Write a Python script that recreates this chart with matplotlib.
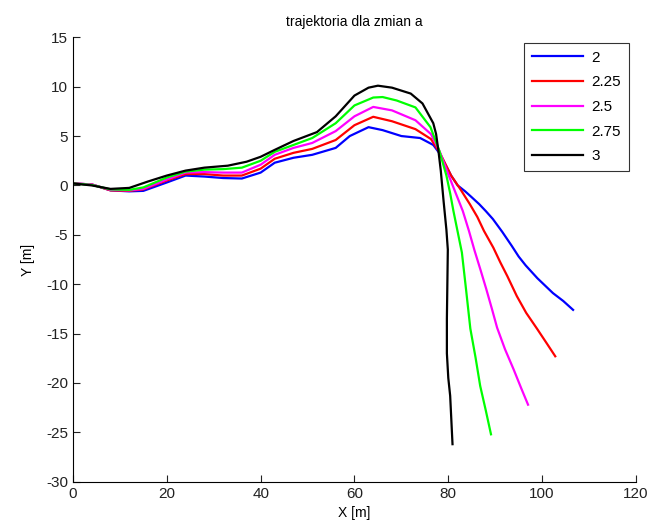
import numpy as np
import matplotlib
matplotlib.use("Agg")
import matplotlib.pyplot as plt

# wartosci parametru a
labels = ["2", "2.25", "2.5", "2.75", "3"]
line_colors = ["#0000ff", "#ff0000", "#ff00ff", "#00ff00", "#000000"]

# a = 2
x_a200 = [0, 4, 8, 12, 15, 20, 24, 28, 32, 36, 40, 43, 47, 51, 56, 59, 63, 66, 70, 74, 76.8, 78.2,
          80.6, 82.0, 83.6, 85.0, 86.6, 88.0, 89.5, 91.5, 93.5, 95.0, 96.5, 99.0, 102.3, 104.5, 106.6]
y_a200 = [0.2, 0.1, -0.5, -0.6, -0.55, 0.3, 1.0, 0.9, 0.75, 0.7, 1.3, 2.3, 2.8, 3.1, 3.8, 5.0, 5.9, 5.6,
          5.0, 4.8, 4.1, 3.2, 1.0, 0.0, -0.6, -1.2, -1.9, -2.6, -3.4, -4.7, -6.1, -7.2, -8.1, -9.4,
          -10.9, -11.7, -12.6]

# a = 2.25
x_a225 = [0, 4, 8, 12, 15, 20, 24, 28, 32, 36, 40, 43, 47, 51, 56, 60, 64, 68, 73, 76.3, 78.2,
          80.6, 82.6, 84.6, 86.2, 87.6, 89.6, 91.1, 92.6, 94.6, 96.6, 98.9, 101.0, 102.8]
y_a225 = [0.2, 0.1, -0.5, -0.55, -0.4, 0.5, 1.15, 1.15, 1.0, 1.0, 1.7, 2.7, 3.3, 3.7, 4.6, 6.1, 6.95,
          6.5, 5.7, 4.7, 3.3, 1.0, -0.4, -1.9, -3.2, -4.6, -6.3, -7.8, -9.2, -11.2, -12.9, -14.5,
          -16.0, -17.3]

# a = 2.5
x_a250 = [0, 4, 8, 12, 15, 20, 24, 28, 32, 36, 40, 43, 47, 51, 56, 60, 64, 68, 73, 76.3, 78.2,
          80.1, 81.6, 83.1, 84.4, 85.6, 86.9, 88.1, 89.3, 90.4, 92.1, 93.9, 95.6, 97.0]
y_a250 = [0.2, 0.1, -0.45, -0.5, -0.35, 0.6, 1.3, 1.35, 1.3, 1.3, 2.1, 3.1, 3.8, 4.3, 5.5, 7.0, 7.95,
          7.6, 6.6, 5.2, 3.4, 1.0, -0.8, -2.6, -4.6, -6.6, -8.6, -10.5, -12.5, -14.4, -16.6, -18.6,
          -20.6, -22.2]

# a = 2.75
x_a275 = [0, 4, 8, 12, 15, 20, 24, 28, 32, 36, 40, 43, 47, 51, 56, 60, 64, 66, 69, 73, 76.2, 78.1,
          79.6, 80.4, 81.1, 82.0, 82.9, 83.8, 84.7, 85.8, 86.8, 88.0, 89.1]
y_a275 = [0.2, 0.05, -0.4, -0.45, -0.2, 0.8, 1.4, 1.6, 1.65, 1.8, 2.5, 3.4, 4.1, 4.8, 6.3, 8.1, 8.9,
          8.95, 8.6, 7.9, 5.9, 3.5, 1.0, -0.8, -2.6, -4.7, -6.8, -10.6, -14.5, -17.4, -20.3, -22.8,
          -25.2]

# a = 3
x_a300 = [0, 4, 8, 12, 16, 20, 24, 28, 33, 37, 40, 43, 47, 52, 56, 60, 63, 65, 68, 72, 74.5, 76.8,
          77.4, 77.9, 78.4, 79.0, 79.6, 79.9, 79.8, 79.7, 79.7, 80.0, 80.4, 80.9]
y_a300 = [0.2, 0.0, -0.35, -0.25, 0.4, 1.0, 1.5, 1.8, 2.0, 2.4, 2.9, 3.6, 4.5, 5.4, 7.0, 9.1, 9.9,
          10.1, 9.9, 9.3, 8.3, 6.3, 5.2, 3.5, 1.5, -1.6, -4.5, -6.5, -10.0, -13.5, -17.0, -19.5,
          -21.3, -26.2]

xs = [x_a200, x_a225, x_a250, x_a275, x_a300]
ys = [y_a200, y_a225, y_a250, y_a275, y_a300]

plt.rcParams['font.family'] = ['Liberation Sans', 'DejaVu Sans']
plt.rcParams['axes.unicode_minus'] = False

fig = plt.figure(figsize=(6.61, 5.29), dpi=100)
ax = fig.add_axes([0.1104, 0.0894, 0.8517, 0.8401])

for x, y, lab, c in zip(xs, ys, labels, line_colors):
    ax.plot(x, y, color=c, linewidth=1.6, label=lab)

ax.set_xlim(0, 120)
ax.set_ylim(-30, 15)
ax.set_xticks(np.arange(0, 121, 20))
ax.set_yticks(np.arange(-30, 16, 5))
ax.spines['top'].set_visible(False)
ax.spines['right'].set_visible(False)
ax.tick_params(direction='in', length=5, labelsize=11, colors='#222222')
ax.set_title('trajektoria dla zmian a', fontsize=10, pad=8)
ax.set_xlabel('X [m]', fontsize=10, labelpad=4)
ax.set_ylabel('Y [m]', fontsize=10, labelpad=8)

leg = ax.legend(loc='upper right', bbox_to_anchor=(0.9876, 0.987), fontsize=11, handlelength=3.3,
                frameon=True, fancybox=False, borderpad=0.5, labelspacing=0.7, handletextpad=0.6,
                borderaxespad=0.0)
leg.get_frame().set_edgecolor('black')
leg.get_frame().set_linewidth(0.8)

fig.savefig('out.png', dpi=100)
